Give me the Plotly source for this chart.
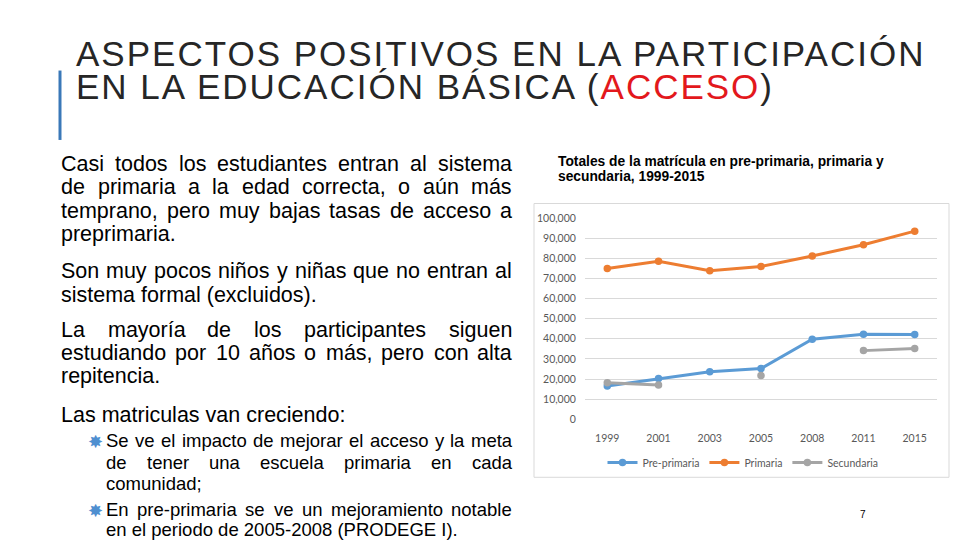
import plotly.graph_objects as go

years = ["1999", "2001", "2003", "2005", "2008", "2011", "2015"]
pre_primaria = [16500, 20200, 23600, 25200, 39800, 42200, 42100]
primaria = [74900, 78500, 73800, 75900, 81100, 86700, 93400]
secundaria = [18100, 17000, None, 21700, None, 34100, 35100]
y_ticks = [0, 10000, 20000, 30000, 40000, 50000, 60000, 70000, 80000, 90000, 100000]

chart_title = ["Totales de la matrícula en pre-primaria, primaria y", "secundaria, 1999-2015"]
slide_title_1 = "ASPECTOS POSITIVOS EN LA PARTICIPACIÓN"
slide_title_2 = "EN LA EDUCACIÓN BÁSICA (<span style='color:#E3181C'>ACCESO</span>)"

# (text, justified)
paragraphs = [
    [("Casi todos los estudiantes entran al sistema", True),
     ("de primaria a la edad correcta, o aún más", True),
     ("temprano, pero muy bajas tasas de acceso a", True),
     ("preprimaria.", False)],
    [("Son muy pocos niños y niñas que no entran al", True),
     ("sistema formal (excluidos).", False)],
    [("La mayoría de los participantes siguen", True),
     ("estudiando por 10 años o más, pero con alta", True),
     ("repitencia.", False)],
    [("Las matriculas van creciendo:", False)],
]
bullet_items = [
    [("Se ve el impacto de mejorar el acceso y la meta", True),
     ("de tener una escuela primaria en cada", True),
     ("comunidad;", False)],
    [("En pre-primaria se ve un mejoramiento notable", True),
     ("en el periodo de 2005-2008 (PRODEGE I).", False)],
]

W, H = 960, 540


def px(x):
    return x / W


def py(y):
    return 1 - y / H


# Arial / Liberation Sans advance widths (1/1000 em)
AW = {' ': 278, '!': 278, '(': 333, ')': 333, ',': 278, '-': 333, '.': 278, ':': 278, ';': 278}
for c in "0123456789":
    AW[c] = 556
for c, w in zip("ABCDEFGHIJKLMNOPQRSTUVWXYZ",
                [667, 667, 722, 722, 667, 611, 778, 722, 278, 500, 667, 556, 833, 722, 778, 667,
                 778, 722, 667, 611, 722, 667, 944, 667, 667, 611]):
    AW[c] = w
for c, w in zip("abcdefghijklmnopqrstuvwxyz",
                [556, 556, 500, 556, 556, 278, 556, 556, 222, 222, 500, 222, 833, 556, 556, 556,
                 556, 333, 500, 278, 556, 500, 722, 500, 500, 500]):
    AW[c] = w
for c, b in zip("áéíóúñÁÉÍÓÚÑ", "aeiounAEIOUN"):
    AW[c] = AW[b]


def tw(s, size):
    return sum(AW.get(c, 556) for c in s) * size / 1000.0


fig = go.Figure()
series = [
    ("Pre-primaria", pre_primaria, "#5B9BD5"),
    ("Primaria", primaria, "#ED7D31"),
    ("Secundaria", secundaria, "#A5A5A5"),
]
for name, vals, col in series:
    fig.add_trace(go.Scatter(
        x=years, y=vals, name=name, mode="lines+markers",
        line=dict(color=col, width=3), marker=dict(color=col, size=7.5),
        connectgaps=False,
    ))

tickfont = dict(family="Liberation Sans Narrow, Lato, Liberation Sans", size=10.5, color="#595959")
fig.update_layout(
    width=W, height=H, margin=dict(l=0, r=0, t=0, b=0),
    paper_bgcolor="white", plot_bgcolor="white",
    font=dict(family="Liberation Sans, Arial", color="#000000"),
    xaxis=dict(domain=[px(585), px(937)], type="category", showgrid=False,
               showline=False, ticks="outside", ticklen=9, tickcolor="rgba(0,0,0,0)",
               zeroline=False, tickfont=tickfont),
    yaxis=dict(domain=[py(422.7), py(216.7)], range=[0, 100000], tickvals=y_ticks,
               tickformat=",d", showgrid=True, gridcolor="#D9D9D9", gridwidth=1,
               zeroline=False, showline=False, ticks="outside", ticklen=6,
               tickcolor="rgba(0,0,0,0)", tickfont=tickfont),
    legend=dict(orientation="h", x=px(743), xanchor="center", y=py(467), yanchor="middle",
                font=tickfont, bgcolor="rgba(0,0,0,0)", itemwidth=30),
    showlegend=True,
)

shapes = [
    dict(type="rect", xref="paper", yref="paper", x0=px(534), x1=px(949), y0=py(482), y1=py(202),
         line=dict(color="#D9D9D9", width=1), fillcolor="rgba(0,0,0,0)", layer="below"),
    dict(type="rect", xref="paper", yref="paper", x0=px(58.5), x1=px(61.5), y0=py(137), y1=py(66),
         line=dict(width=0), fillcolor="#3A78B8"),
]
fig.update_layout(shapes=shapes)

ann = []


def text(x, y, s, size, color="#000000", family="Liberation Sans, Arial", xanchor="left"):
    # y is the intended centre of the capital letters
    ann.append(dict(xref="paper", yref="paper", x=px(x), y=py(y - 0.083 * size), text=s,
                    showarrow=False, xanchor=xanchor, yanchor="middle", align="left",
                    borderpad=0, font=dict(family=family, size=size, color=color)))


def line(x0, x1, y, s, size, justified):
    if not justified:
        text(x0, y, s, size)
        return
    words = s.split(" ")
    widths = [tw(w, size) for w in words]
    gap = (x1 - x0 - sum(widths)) / (len(words) - 1)
    x = x0
    for w, wd in zip(words, widths):
        text(x, y, w, size)
        x += wd + gap


title_col = "#262626"
text(75, 51, slide_title_1, 35, title_col)
text(75, 85, slide_title_2, 35, title_col)

body_size = 21.5
body_y = [[163, 187, 211, 235], [273, 297], [333, 357, 380], [420]]
for para, ys in zip(paragraphs, body_y):
    for (s, j), y in zip(para, ys):
        line(60, 511, y, s, body_size, j)

bullet_size = 18.5
bullet_y = [[446, 468, 490], [516, 537]]
for item, ys in zip(bullet_items, bullet_y):
    for k, ((s, j), y) in enumerate(zip(item, ys)):
        line(105, 511, y, s, bullet_size, j)
        if k == 0:
            text(95, y + 1, "✸", 18, color="#4F8FD0", family="DejaVu Sans", xanchor="center")

text(557, 160, "<b>" + chart_title[0] + "</b>", 13.8)
text(557, 176, "<b>" + chart_title[1] + "</b>", 13.8)
text(863, 521, "7", 10, xanchor="center")

fig.update_layout(annotations=ann)

post = """
document.body.style.margin = '0';
document.body.style.padding = '0';
document.querySelectorAll('.annotation-text').forEach(function (t) {
  var s = t.textContent || '';
  if (s.indexOf('ASPECTOS') === 0 || s.indexOf('EN LA EDUC') === 0) {
    t.style.letterSpacing = '2px';
  }
});
"""
fig.write_html("out.html", post_script=post, config={"displayModeBar": False})
